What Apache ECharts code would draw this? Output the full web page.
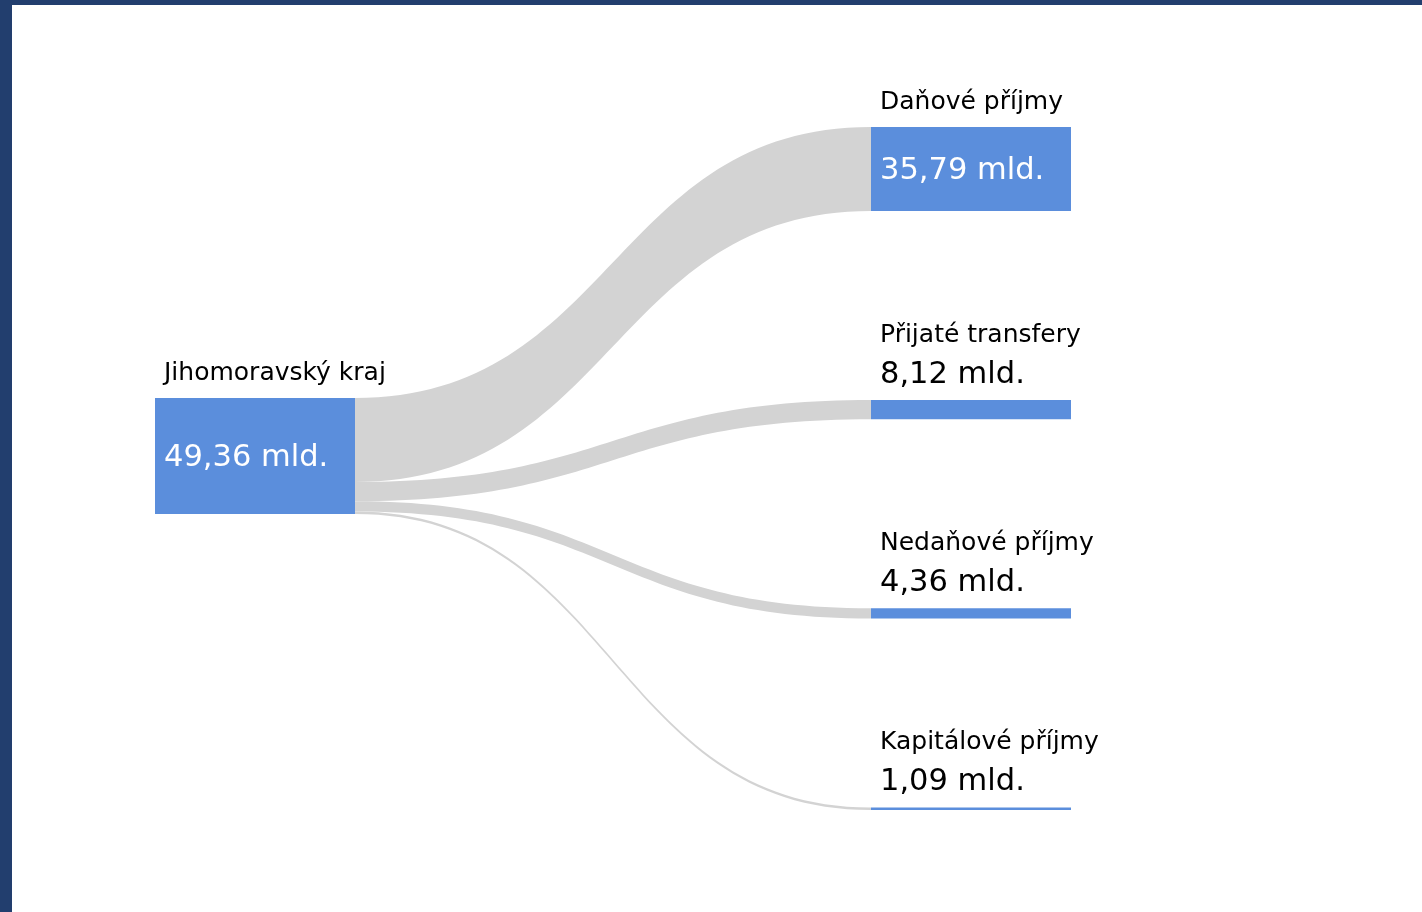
<!DOCTYPE html>
<html>
<head>
<meta charset="utf-8">
<script src="https://cdn.jsdelivr.net/npm/echarts@6/dist/echarts.min.js"></script>
<style>
  html, body { margin: 0; padding: 0; width: 1422px; height: 912px; background: #223e6e; overflow: hidden; }
  #chart { position: absolute; left: 12px; top: 5px; width: 1410px; height: 907px; background: #ffffff; }
</style>
</head>
<body>
<div id="chart"></div>
<script>
// ---- data ----
const sourceName = 'Jihomoravský kraj';
const targetNames = ['Daňové příjmy', 'Přijaté transfery', 'Nedaňové příjmy', 'Kapitálové příjmy'];
const targetValues = [35.79, 8.12, 4.36, 1.09]; // mld. Kč
const unitLabel = 'mld.';

// ---- layout constants ----
const CONTAINER_TOP = 5;
const WINDOW_H = 912;
const CONTAINER_H = 907;
const LAYOUT = { left: 143, right: 351, top: 122, bottom: 102 };
const NODE_WIDTH = 200;
const NODE_GAP = 189;
const NODE_COLOR = '#5b8edc';
const LINK_COLOR = '#d3d3d3';
const FONT = 'DejaVu Sans, Verdana, sans-serif';
const NAME_SIZE = 25;
const VALUE_SIZE = 30.5;

const fmt = v => v.toFixed(2).replace('.', ',') + ' ' + unitLabel;
const total = targetValues.reduce((a, b) => a + b, 0);
const layoutH = CONTAINER_H - LAYOUT.top - LAYOUT.bottom;
// same scale the sankey layout uses for the most crowded column
const ky = (layoutH - (targetNames.length - 1) * NODE_GAP) / total;

function nodeLabel(name, value) {
  const h = value * ky;
  if (h > 40) {
    return {
      show: true,
      position: [9, -45],
      align: 'left',
      verticalAlign: 'top',
      formatter: '{n|' + name + '}\n{vi|' + fmt(value) + '}',
      rich: {
        n: { fontFamily: FONT, fontSize: NAME_SIZE, color: '#000', lineHeight: 40 },
        vi: { fontFamily: FONT, fontSize: VALUE_SIZE, color: '#ffffff', lineHeight: h + 14 }
      }
    };
  }
  return {
    show: true,
    position: [9, -85],
    align: 'left',
    verticalAlign: 'top',
    formatter: '{n|' + name + '}\n{vo|' + fmt(value) + '}',
    rich: {
      n: { fontFamily: FONT, fontSize: NAME_SIZE, color: '#000', lineHeight: 40 },
      vo: { fontFamily: FONT, fontSize: VALUE_SIZE, color: '#000', lineHeight: 40 }
    }
  };
}

// source node centred vertically in the window
const sourceH = total * ky;
const sourceLocalY = ((WINDOW_H - sourceH) / 2 - CONTAINER_TOP - LAYOUT.top) / layoutH;

const nodes = [{ name: sourceName, label: nodeLabel(sourceName, total), localY: sourceLocalY }]
  .concat(targetNames.map((n, i) => ({ name: n, label: nodeLabel(n, targetValues[i]) })));
const links = targetNames.map((n, i) => ({ source: sourceName, target: n, value: targetValues[i] }));

const chart = echarts.init(document.getElementById('chart'), null, { renderer: 'canvas' });
chart.setOption({
  animation: false,
  backgroundColor: '#ffffff',
  series: [{
    type: 'sankey',
    left: LAYOUT.left, right: LAYOUT.right, top: LAYOUT.top, bottom: LAYOUT.bottom,
    nodeWidth: NODE_WIDTH,
    nodeGap: NODE_GAP,
    layoutIterations: 0,
    draggable: false,
    emphasis: { disabled: true },
    itemStyle: { color: NODE_COLOR, borderWidth: 0 },
    lineStyle: { color: LINK_COLOR, opacity: 1, curveness: 0.5 },
    data: nodes,
    links: links
  }]
});
</script>
</body>
</html>
